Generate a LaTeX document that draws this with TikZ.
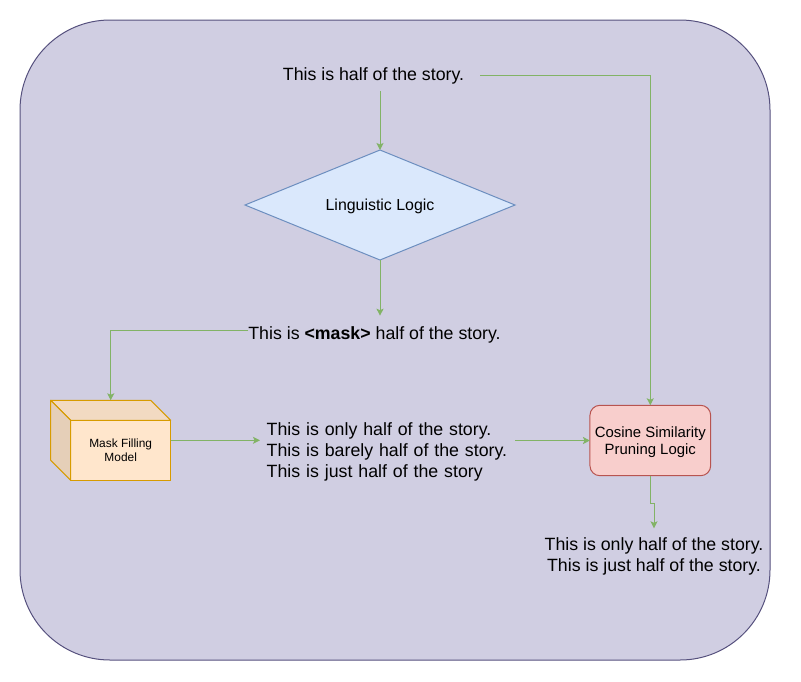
\documentclass[tikz,border=0pt]{standalone}
\usepackage{fontspec}
\setmainfont{Liberation Sans}
\usetikzlibrary{arrows.meta, shapes.geometric}

\definecolor{bgfill}{HTML}{D0CEE2}
\definecolor{bgline}{HTML}{56517E}
\definecolor{flowgreen}{HTML}{82B366}
\definecolor{llfill}{HTML}{DAE8FC}
\definecolor{llline}{HTML}{6C8EBF}
\definecolor{mfmfill}{HTML}{FFE6CC}
\definecolor{mfmline}{HTML}{D79B00}
\definecolor{cspfill}{HTML}{F8CECC}
\definecolor{cspline}{HTML}{B85450}

\begin{document}
\begin{tikzpicture}[x=1pt, y=-1pt,
    flow/.style={draw=flowgreen, line width=1pt, -{Stealth[length=7pt, width=7pt, inset=1.5pt]}},
    story/.style={font=\fontsize{17.75}{20.8}\selectfont, inner sep=0pt, outer sep=0pt},
    logic/.style={diamond, draw=llline, fill=llfill, line width=1pt, aspect=2.45,
      minimum width=270pt, minimum height=110pt, inner sep=0pt, outer sep=0pt,
      text depth=0pt, font=\fontsize{15.9}{18}\selectfont},
    cubefront/.style={draw=mfmline, fill=mfmfill, line width=1pt, minimum width=100pt,
      minimum height=60pt, inner sep=0pt, outer sep=0pt, align=center,
      font=\fontsize{11.9}{14}\selectfont},
    cubetop/.style={draw=mfmline, fill=mfmfill!95!black, line width=1pt, line join=round},
    cubeside/.style={draw=mfmline, fill=mfmfill!90!black, line width=1pt, line join=round},
    pruning/.style={draw=cspline, fill=cspfill, line width=1pt, rounded corners=10pt,
      minimum width=120.7pt, minimum height=70.4pt, inner sep=0pt, outer sep=0pt,
      align=center, text depth=0pt, font=\fontsize{14.9}{17.6}\selectfont}]
  \useasboundingbox (0,0) rectangle (801,681);
  \draw[fill=bgfill, draw=bgline, line width=1pt, rounded corners=90pt] (20,20) rectangle (770,660);

  \node[story, minimum width=213pt, minimum height=31.4pt] (toptxt) at (373.5, 75.5) {This is half of the story.};
  \node[logic] (ll) at (380, 205) {Linguistic Logic};
  \node[story, minimum height=38pt] (masktxt) at (374.5, 334.7) {This is \textbf{<mask>} half of the story.};

  \node[cubefront] (mfm) at (120.7, 450.3) {Mask Filling\\Model};
  \filldraw[cubetop] (mfm.north west) -- ++(-20,-20) -- ++(100,0) -- (mfm.north east) -- cycle;
  \filldraw[cubeside] (mfm.north west) -- ++(-20,-20) -- ++(0,60) -- (mfm.south west) -- cycle;
  \coordinate (mfmtop) at ([shift={(-10,-20)}]mfm.north);
  \coordinate (mfmE) at ([shift={(0,-10)}]mfm.east);

  \node[story, anchor=west, inner xsep=6.7pt, text width=241.6pt, align=left] (threetxt) at (260, 452)
    {This is only half of the story.\\This is barely half of the story.\\This is just half of the story};
  \node[pruning] (csp) at (650.3, 440.5) {Cosine Similarity\\Pruning Logic};
  \node[story, anchor=north, inner ysep=9.5pt, align=center] (bottxt) at (654, 528.3)
    {This is only half of the story.\\This is just half of the story.};

  \draw[flow] (toptxt.south -| ll.north) -- (ll.north);
  \draw[flow] (toptxt.east) -| (csp.north);
  \draw[flow] (ll.south) -- (ll.south |- masktxt.north);
  \draw[flow] ([shift={(0,-4.7)}]masktxt.west) -| (mfmtop);
  \draw[flow] (mfmE) -- (mfmE -| threetxt.west);
  \draw[flow] (csp.west -| threetxt.east) -- (csp.west);
  \draw[flow] (csp.south) -- ++(0,27.3) -| (bottxt.north);
\end{tikzpicture}
\end{document}
